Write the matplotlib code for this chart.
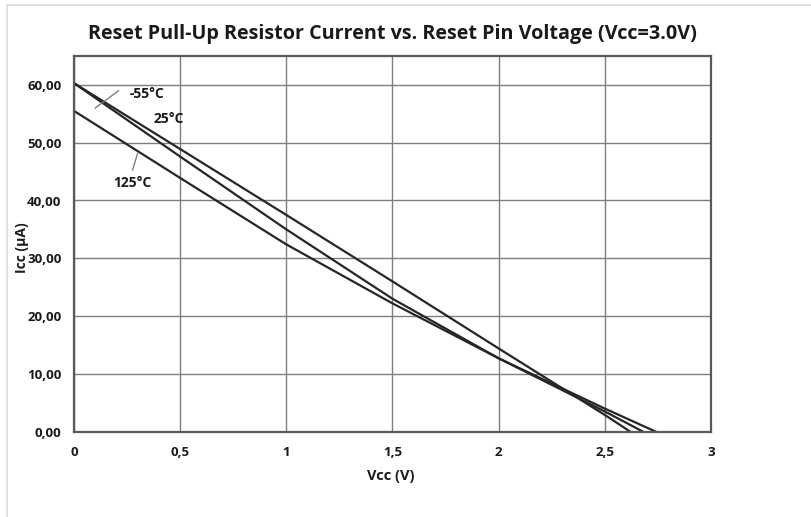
import matplotlib
matplotlib.use("Agg")
import matplotlib.pyplot as plt
from matplotlib.patches import Rectangle
from matplotlib.ticker import FuncFormatter

plt.rcParams['font.family'] = ['Open Sans', 'DejaVu Sans']

# values
v_25 = [0.0, 0.5, 1.0, 1.5, 2.0, 2.5, 2.62]
i_25 = [60.3, 48.9, 37.5, 26.0, 14.4, 2.9, 0.0]

v_m55 = [0.0, 0.5, 1.0, 1.5, 2.0, 2.5, 2.68]
i_m55 = [60.3, 47.6, 35.0, 23.0, 12.7, 3.5, 0.0]

v_125 = [0.0, 0.5, 1.0, 1.5, 2.0, 2.5, 2.74]
i_125 = [55.5, 43.9, 32.4, 22.2, 12.7, 4.0, 0.0]

x_ticks = [0, 0.5, 1, 1.5, 2, 2.5, 3]
y_ticks = [0, 10, 20, 30, 40, 50, 60]

fig = plt.figure(figsize=(8.12, 5.17), dpi=100)
fig.patches.append(Rectangle((7 / 812, -0.1), 1.2, 1.1 - 5 / 517, transform=fig.transFigure,
                             fill=False, edgecolor='#d9d9d9', lw=1.2))

ax = fig.add_axes([74 / 812, 85.3 / 517, 637 / 812, 375.7 / 517])
ax.set_xlim(0, 3)
ax.set_ylim(0, 65)
ax.set_xticks(x_ticks)
ax.set_yticks(y_ticks)
ax.xaxis.set_major_formatter(FuncFormatter(lambda v, p: ('%g' % v).replace('.', ',')))
ax.yaxis.set_major_formatter(FuncFormatter(lambda v, p: ('%.2f' % v).replace('.', ',')))
ax.tick_params(length=0, labelsize=9.5, colors='#1a1a1a')
ax.tick_params(axis='y', pad=9)
ax.tick_params(axis='x', pad=10)
for lab in ax.get_xticklabels() + ax.get_yticklabels():
    lab.set_fontweight('bold')
ax.grid(True, color='#7f7f7f', lw=1)
ax.set_axisbelow(True)
for s in ax.spines.values():
    s.set_color('#595959')
    s.set_linewidth(1.6)

ax.plot(v_25, i_25, color='#262626', lw=1.6)
ax.plot(v_m55, i_m55, color='#262626', lw=1.6)
ax.plot(v_125, i_125, color='#262626', lw=1.6)

# curve labels with leader lines
lab_kw = dict(fontsize=10, fontweight='bold', ha='center', va='center', color='#1a1a1a')
ax.text(0.345, 58.5, '-55°C', **lab_kw)
ax.plot([0.21, 0.10], [59.0, 56.0], color='#7f7f7f', lw=1)
ax.text(0.445, 54.1, '25°C', **lab_kw)
ax.text(0.276, 43.0, '125°C', **lab_kw)
ax.plot([0.276, 0.30], [45.3, 48.2], color='#7f7f7f', lw=1)

ax.set_title('Reset Pull-Up Resistor Current vs. Reset Pin Voltage (Vcc=3.0V)',
             fontsize=14.2, fontweight='bold', color='#1a1a1a', pad=12)
ax.set_xlabel('Vcc (V)', fontsize=10.5, fontweight='bold', color='#1a1a1a')
ax.xaxis.set_label_coords(0.497, -0.1)
ax.set_ylabel('Icc (µA)', fontsize=10, fontweight='bold', color='#1a1a1a')
ax.yaxis.set_label_coords(-0.07, 0.49)

fig.savefig('out.png', dpi=100)
